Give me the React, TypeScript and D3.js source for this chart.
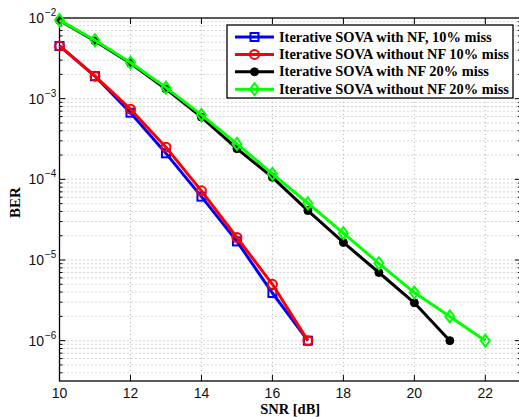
import React, { useEffect, useRef } from 'react';
import * as d3 from 'd3';

// SNR points (dB)
const snr10 = [10, 11, 12, 13, 14, 15, 16, 17];
const snr20black = [10, 11, 12, 13, 14, 15, 16, 17, 18, 19, 20, 21];
const snr20green = [10, 11, 12, 13, 14, 15, 16, 17, 18, 19, 20, 21, 22];

// BER values
const berWithNF10 = [4.5e-3, 1.9e-3, 6.7e-4, 2.1e-4, 6.1e-5, 1.7e-5, 3.9e-6, 1e-6];
const berWithoutNF10 = [4.5e-3, 1.9e-3, 7.4e-4, 2.5e-4, 7.2e-5, 1.9e-5, 5.0e-6, 1e-6];
const berWithNF20 = [9.3e-3, 5.2e-3, 2.75e-3, 1.32e-3, 5.9e-4, 2.4e-4, 1.06e-4, 4.1e-5, 1.65e-5, 7.0e-6, 2.95e-6, 1e-6];
const berWithoutNF20 = [9.4e-3, 5.3e-3, 2.8e-3, 1.37e-3, 6.3e-4, 2.75e-4, 1.17e-4, 5.05e-5, 2.15e-5, 9.1e-6, 3.95e-6, 2.0e-6, 1e-6];

const legendLabels = [
  'Iterative SOVA with NF, 10% miss',
  'Iterative SOVA without NF 10% miss',
  'Iterative SOVA with NF 20% miss',
  'Iterative SOVA without NF 20% miss',
];
const xTicks = [10, 12, 14, 16, 18, 20, 22];
const yExponents = [-2, -3, -4, -5, -6];

type Series = { x: number[]; y: number[]; color: string; marker: string };

const series: Series[] = [
  { x: snr10, y: berWithNF10, color: '#0000ff', marker: 'square' },
  { x: snr10, y: berWithoutNF10, color: '#ff0000', marker: 'circle' },
  { x: snr20black, y: berWithNF20, color: '#000000', marker: 'dot' },
  { x: snr20green, y: berWithoutNF20, color: '#00ff00', marker: 'diamond' },
];

function drawMarker(g: any, kind: string, color: string, cx: number, cy: number) {
  if (kind === 'square') {
    g.append('rect').attr('x', cx - 4).attr('y', cy - 4).attr('width', 8).attr('height', 8)
      .attr('fill', 'none').attr('stroke', color).attr('stroke-width', 2);
  } else if (kind === 'circle') {
    g.append('circle').attr('cx', cx).attr('cy', cy).attr('r', 4.5)
      .attr('fill', 'none').attr('stroke', color).attr('stroke-width', 2);
  } else if (kind === 'dot') {
    g.append('circle').attr('cx', cx).attr('cy', cy).attr('r', 4)
      .attr('fill', color).attr('stroke', color).attr('stroke-width', 1);
  } else {
    g.append('path').attr('d', `M${cx},${cy - 6}L${cx + 4.5},${cy}L${cx},${cy + 6}L${cx - 4.5},${cy}Z`)
      .attr('fill', 'none').attr('stroke', color).attr('stroke-width', 2);
  }
}

export default function App() {
  const svgRef = useRef<SVGSVGElement>(null);

  useEffect(() => {
    const width = 519;
    const height = 417;
    const left = 59.5, right = 520.8, top = 18, bottom = 381;

    const svg = d3.select(svgRef.current);
    svg.selectAll('*').remove();
    svg.attr('width', width).attr('height', height);

    const x = d3.scaleLinear().domain([10, 23]).range([left, right]);
    const y = d3.scaleLog().domain([Math.pow(10, -6.5), 1e-2]).range([bottom, top]);

    svg.append('rect').attr('width', width).attr('height', height).attr('fill', '#fff');

    // Grid: minor + major log lines, vertical at x ticks
    const grid = svg.append('g').attr('stroke', '#9a9a9a').attr('stroke-width', 0.8)
      .attr('stroke-dasharray', '1,3');
    const yGridVals: number[] = [];
    for (let e = -7; e <= -3; e++) {
      for (let m = 1; m <= 9; m++) {
        const v = m * Math.pow(10, e);
        if (v >= Math.pow(10, -6.5) && v < 1e-2) yGridVals.push(v);
      }
    }
    yGridVals.forEach(v => {
      grid.append('line').attr('x1', left).attr('x2', right).attr('y1', y(v)).attr('y2', y(v));
    });
    xTicks.slice(1).forEach(t => {
      grid.append('line').attr('x1', x(t)).attr('x2', x(t)).attr('y1', top).attr('y2', bottom);
    });

    // Ticks (inside)
    const ticks = svg.append('g').attr('stroke', '#000').attr('stroke-width', 1);
    yGridVals.forEach(v => {
      const major = Math.abs(Math.log10(v) - Math.round(Math.log10(v))) < 1e-9;
      const len = major ? 6 : 3;
      ticks.append('line').attr('x1', left).attr('x2', left + len).attr('y1', y(v)).attr('y2', y(v));
      ticks.append('line').attr('x1', right).attr('x2', right - len).attr('y1', y(v)).attr('y2', y(v));
    });
    xTicks.forEach(t => {
      ticks.append('line').attr('x1', x(t)).attr('x2', x(t)).attr('y1', bottom).attr('y2', bottom - 6);
      ticks.append('line').attr('x1', x(t)).attr('x2', x(t)).attr('y1', top).attr('y2', top + 6);
    });

    // Frame
    svg.append('rect').attr('x', left).attr('y', top).attr('width', right - left).attr('height', bottom - top)
      .attr('fill', 'none').attr('stroke', '#000').attr('stroke-width', 1.3);

    // Series
    const line = d3.line<[number, number]>().x(d => x(d[0])).y(d => y(d[1]));
    series.forEach(s => {
      const pts = s.x.map((v, i) => [v, s.y[i]] as [number, number]);
      const g = svg.append('g');
      g.append('path').attr('d', line(pts)).attr('fill', 'none').attr('stroke', s.color)
        .attr('stroke-width', 3).attr('stroke-linejoin', 'round');
      pts.forEach(p => drawMarker(g, s.marker, s.color, x(p[0]), y(p[1])));
    });

    // Tick labels
    const tickFont = 'Liberation Sans, Arial, sans-serif';
    xTicks.forEach(t => {
      svg.append('text').attr('x', x(t)).attr('y', 398).attr('text-anchor', 'middle')
        .attr('font-family', tickFont).attr('font-size', 14).attr('fill', '#111').text(String(t));
    });
    yExponents.forEach(e => {
      const yy = y(Math.pow(10, e));
      svg.append('text').attr('x', 44).attr('y', yy + 5).attr('text-anchor', 'end')
        .attr('font-family', tickFont).attr('font-size', 14).attr('fill', '#111').text('10');
      svg.append('text').attr('x', 45).attr('y', yy - 2).attr('font-family', tickFont)
        .attr('font-size', 10).attr('fill', '#111').text(`\u2212${-e}`);
    });

    // Axis titles
    const titleFont = 'Liberation Serif, Times New Roman, serif';
    svg.append('text').attr('x', (left + right) / 2).attr('y', 414).attr('text-anchor', 'middle')
      .attr('font-family', titleFont).attr('font-weight', 'bold').attr('font-size', 14.5).text('SNR [dB]');
    svg.append('text').attr('transform', `translate(20,${(top + bottom) / 2 + 3}) rotate(-90)`)
      .attr('text-anchor', 'middle').attr('font-family', titleFont).attr('font-weight', 'bold')
      .attr('font-size', 15).text('BER');

    // Legend
    const lg = svg.append('g');
    lg.append('rect').attr('x', 227).attr('y', 25).attr('width', 286).attr('height', 73)
      .attr('fill', '#fff').attr('stroke', '#000').attr('stroke-width', 1.3);
    legendLabels.forEach((label, i) => {
      const ly = 37 + i * 17.4;
      const s = series[i];
      lg.append('line').attr('x1', 235).attr('x2', 274).attr('y1', ly).attr('y2', ly)
        .attr('stroke', s.color).attr('stroke-width', 3);
      drawMarker(lg, s.marker, s.color, 254.5, ly);
      lg.append('text').attr('x', 279).attr('y', ly + 4.5).attr('font-family', titleFont)
        .attr('font-weight', 'bold').attr('font-size', 14.4).text(label);
    });
  }, []);

  return (
    <div style={{ position: 'absolute', left: 0, top: 0, width: 519, height: 417 }}>
      <svg ref={svgRef} style={{ display: 'block' }} />
    </div>
  );
}
